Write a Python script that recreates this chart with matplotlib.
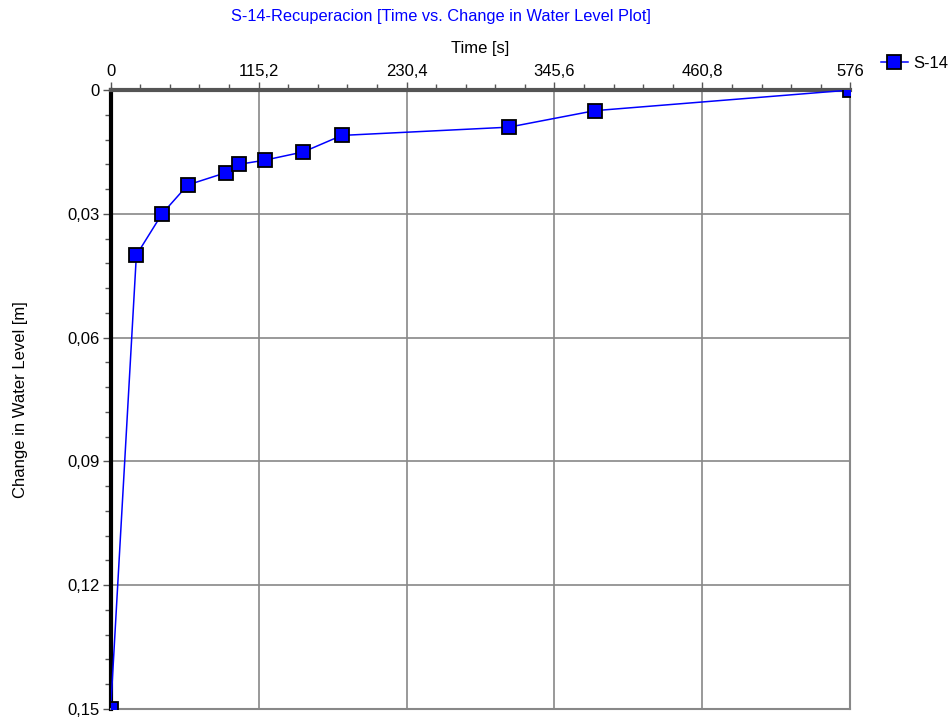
import matplotlib
matplotlib.use("Agg")
import matplotlib.pyplot as plt
from matplotlib.ticker import FixedLocator, AutoMinorLocator, FuncFormatter

plt.rcParams['font.family'] = ['Liberation Sans', 'DejaVu Sans']

time_s = [0, 20, 40, 60, 90, 100, 120, 150, 180, 310, 377, 576]
change_m = [0.15, 0.040, 0.030, 0.023, 0.020, 0.018, 0.017, 0.015, 0.011, 0.009, 0.005, 0.0]
x_ticks = [0, 115.2, 230.4, 345.6, 460.8, 576]
y_ticks = [0, 0.03, 0.06, 0.09, 0.12, 0.15]
series_name = "S-14"
title = "S-14-Recuperacion [Time vs. Change in Water Level Plot]"

fig = plt.figure(figsize=(9.51, 7.22), dpi=100)
ax = fig.add_axes([0.1164, 0.018, 0.7777, 0.8573])

ax.plot(time_s, change_m, color='#0000ff', lw=1.1, marker='s', markersize=9.5,
        markerfacecolor='#0000ff', markeredgecolor='black', markeredgewidth=1.3,
        label=series_name, clip_on=True, zorder=3)

ax.set_xlim(0, 576)
ax.set_ylim(0.15, 0)
ax.xaxis.set_major_locator(FixedLocator(x_ticks))
ax.yaxis.set_major_locator(FixedLocator(y_ticks))
ax.xaxis.set_minor_locator(AutoMinorLocator(5))
ax.yaxis.set_minor_locator(AutoMinorLocator(5))

def fmt(v, pos):
    if v == 0:
        return '0'
    if abs(v) >= 1:
        s = ('%.1f' % v).rstrip('0').rstrip('.')
    else:
        s = ('%.2f' % v).rstrip('0').rstrip('.')
    return s.replace('.', ',')

ax.xaxis.set_major_formatter(FuncFormatter(fmt))
ax.yaxis.set_major_formatter(FuncFormatter(fmt))

ax.xaxis.tick_top()
ax.xaxis.set_label_position('top')
ax.tick_params(axis='both', which='major', length=6, width=1, color='#555555',
               labelsize=12, labelcolor='black', pad=2)
ax.tick_params(axis='both', which='minor', length=4, width=1, color='#555555')

ax.grid(True, which='major', color='#888888', lw=1.2)
ax.set_axisbelow(True)

for side in ['right', 'bottom']:
    ax.spines[side].set_color('#888888')
    ax.spines[side].set_linewidth(1.5)
ax.spines['left'].set_color('black')
ax.spines['left'].set_linewidth(3)
ax.spines['top'].set_color('#555555')
ax.spines['top'].set_linewidth(3)

ax.set_xlabel('Time [s]', fontsize=12)
ax.xaxis.set_label_coords((480 - 110.7) / 739.6, 1 + (90 - 48) / 619.0)
ax.xaxis.label.set_va('center')
ax.set_ylabel('Change in Water Level [m]', fontsize=12)
ax.yaxis.set_label_coords((21 - 110.7) / 739.6, 0.5)
ax.yaxis.label.set_va('center')

fig.text(441 / 951, 1 - 16 / 722, title, color='#0000ff', fontsize=11.8,
         ha='center', va='center')

fig.legend(*ax.get_legend_handles_labels(), loc='center left',
           bbox_to_anchor=(881 / 951, 1 - 63 / 722), frameon=False,
           fontsize=12, handlelength=1.6, handletextpad=0.35,
           borderpad=0, borderaxespad=0)

fig.savefig('out.png', dpi=100)
